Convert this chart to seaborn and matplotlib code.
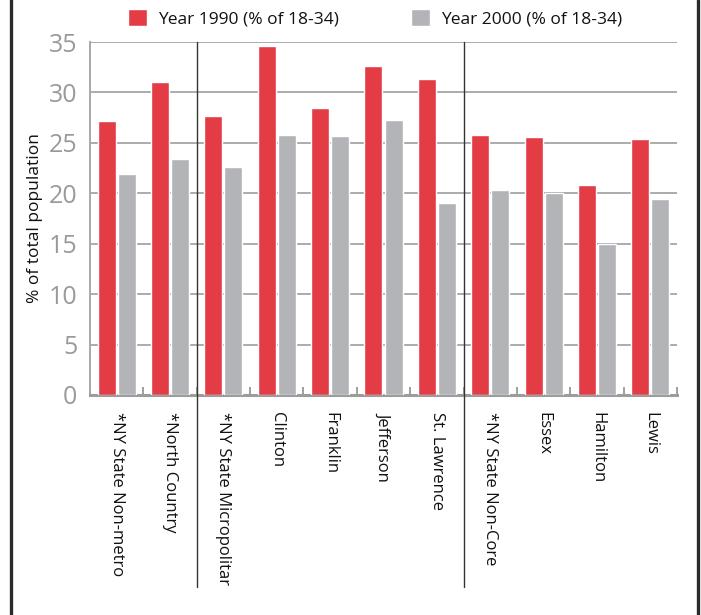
import matplotlib
matplotlib.use("Agg")
import matplotlib.pyplot as plt
from matplotlib.lines import Line2D
from matplotlib.ticker import FixedLocator
import numpy as np
import pandas as pd
import seaborn as sns

# Share of population aged 18-34, by area
areas = ["*NY State Non-metro", "*North Country", "*NY State Micropolitar",
         "Clinton", "Franklin", "Jefferson", "St. Lawrence",
         "*NY State Non-Core", "Essex", "Hamilton", "Lewis"]
year_1990 = [27.2, 31.0, 27.7, 34.6, 28.5, 32.6, 31.3, 25.8, 25.6, 20.8, 25.4]
year_2000 = [21.9, 23.4, 22.6, 25.8, 25.7, 27.3, 19.0, 20.3, 20.0, 15.0, 19.4]
series = ["Year 1990 (% of 18-34)", "Year 2000 (% of 18-34)"]
y_ticks = [0, 5, 10, 15, 20, 25, 30, 35]
group_breaks = [1.5, 6.5]

RED = "#E33C45"
GREY = "#B3B4B8"

df = pd.DataFrame({
    "area": areas * 2,
    "value": year_1990 + year_2000,
    "series": [series[0]] * len(areas) + [series[1]] * len(areas),
})

sns.set_theme(style="white")
plt.rcParams["font.family"] = ["Open Sans", "DejaVu Sans"]

W, H = 701, 615
fig = plt.figure(figsize=(W / 100, H / 100), dpi=100)
ax = fig.add_axes([90 / W, 1 - 395 / H, (677 - 90) / W, (395 - 42) / H])

sns.barplot(data=df, x="area", y="value", hue="series", order=areas,
            hue_order=series, palette=[RED, GREY], width=0.75, gap=0.1,
            saturation=1, errorbar=None, ax=ax, zorder=3)

ax.set_xlim(-0.5, len(areas) - 0.5)
ax.set_ylim(0, 35)
ax.set_yticks(y_ticks)
ax.set_yticklabels([str(t) for t in y_ticks])
ax.yaxis.grid(True, color="#ABABAB", linewidth=1.4, zorder=0)
ax.set_axisbelow(True)

ax.tick_params(axis="y", length=0, pad=9, labelsize=18, labelcolor="#9A9A9A")
ax.tick_params(axis="x", which="major", length=0, pad=12, labelsize=12,
               labelcolor="#111111", labelrotation=-90)
ax.xaxis.set_minor_locator(FixedLocator(np.arange(-0.5, len(areas), 1.0)))
ax.tick_params(axis="x", which="minor", direction="in", length=6,
               width=1.3, color="#999999", bottom=True)
for lbl in ax.get_xticklabels():
    lbl.set_verticalalignment("top")
    lbl.set_horizontalalignment("center")

ax.set_xlabel("")
ax.set_ylabel("% of total population", fontsize=12.5, color="#111111", labelpad=4)

for side in ["top", "right"]:
    ax.spines[side].set_visible(False)
ax.spines["left"].set_color("#A8A8A8")
ax.spines["left"].set_linewidth(1.4)
ax.spines["bottom"].set_color("#9C9C9C")
ax.spines["bottom"].set_linewidth(2.2)

# dividers between the area groups, running down through the labels
for xb in group_breaks:
    ax.axvline(xb, ymin=-(587 - 395) / (395 - 42), ymax=1, color="#333333",
               linewidth=1.0, clip_on=False, zorder=4)

handles, labels = ax.get_legend_handles_labels()
ax.legend_.remove()
fig.legend(handles, labels, loc="center", bbox_to_anchor=(375 / W, 1 - 18 / H),
           ncol=2, frameon=False, fontsize=12.5, handlelength=1.1,
           handleheight=1.1, handletextpad=0.6, columnspacing=4.2,
           labelcolor="#111111")

# outer frame lines
for xf in [11 / W, 698 / W]:
    fig.add_artist(Line2D([xf, xf], [0, 1], transform=fig.transFigure,
                          color="#2A2A2A", linewidth=2.4))

fig.savefig("out.png", dpi=100)
